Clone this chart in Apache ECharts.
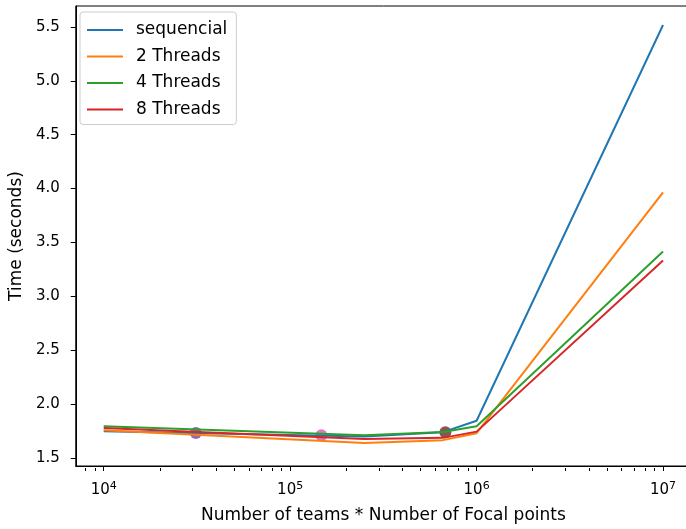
<!DOCTYPE html>
<html>
<head>
<meta charset="utf-8">
<script src="https://cdn.jsdelivr.net/npm/echarts@6/dist/echarts.min.js"></script>
<style>
  html, body { margin: 0; padding: 0; background: #fff; overflow: hidden; }
  /* the original figure is cut off at the right edge, so the canvas runs past the window */
  #chart { width: 720px; height: 529px; }
</style>
</head>
<body>
<div id="chart"></div>
<script>
// problem size (teams * focal points) and timings in seconds
const sizes = [1e4, 2.5e5, 6.6e5, 1e6, 1e7]
const sequencial = [1.748, 1.700, 1.740, 1.846, 5.518]
const threads2 = [1.758, 1.640, 1.666, 1.730, 3.964]
const threads4 = [1.794, 1.711, 1.742, 1.795, 3.416]
const threads8 = [1.779, 1.677, 1.687, 1.745, 3.333]

// single highlighted points
const markX = [3.12e4, 6.8e5, 1.47e5]
const markY = [1.733, 1.739, 1.711]
const markColors = ['#9467bd', '#8c564b', '#e377c2']

const yTicks = [1.5, 2.0, 2.5, 3.0, 3.5, 4.0, 4.5, 5.0, 5.5]
const xTicks = [1e4, 1e5, 1e6, 1e7]
const xMinorTicks = []
for (let e = 3; e < 7; e++) {
  for (let m = 2; m <= 9; m++) {
    xMinorTicks.push(m * Math.pow(10, e))
  }
}

const names = ['sequencial', '2 Threads', '4 Threads', '8 Threads']
const colors = ['#1f77b4', '#ff7f0e', '#2ca02c', '#d62728']
const values = [sequencial, threads2, threads4, threads8]

const font = 'DejaVu Sans'
const gridTop = 6
const gridBottom = 61
const gridHeight = 529 - gridTop - gridBottom

const chart = echarts.init(document.getElementById('chart'))

const lineSeries = names.map((name, i) => {
  return {
    name: name,
    type: 'line',
    symbol: 'none',
    lineStyle: { color: colors[i], width: 2 },
    itemStyle: { color: colors[i] },
    data: sizes.map((x, j) => [x, values[i][j]])
  }
})

const markSeries = markX.map((x, i) => {
  return {
    type: 'scatter',
    symbolSize: 12,
    itemStyle: { color: markColors[i], opacity: 1 },
    data: [[x, markY[i]]]
  }
})

chart.setOption({
  animation: false,
  textStyle: { fontFamily: font },
  grid: {
    left: 72,
    right: 29,
    top: gridTop,
    bottom: gridBottom,
    show: true,
    borderColor: '#000',
    borderWidth: 1
  },
  legend: {
    data: names,
    orient: 'vertical',
    left: 80,
    top: 12,
    icon: 'rect',
    itemWidth: 36,
    itemHeight: 2,
    itemGap: 9.5,
    padding: [9.5, 9, 6.5, 7],
    backgroundColor: 'rgba(255,255,255,0.8)',
    borderColor: '#cccccc',
    borderWidth: 1,
    borderRadius: 3,
    textStyle: {
      fontFamily: font,
      fontSize: 17,
      color: '#000',
      padding: [0, 0, 0, 8]
    }
  },
  xAxis: [
    {
      type: 'log',
      logBase: 10,
      min: Math.pow(10, 3.85),
      max: Math.pow(10, 7.15),
      position: 'bottom',
      name: 'Number of teams * Number of Focal points',
      nameLocation: 'middle',
      nameGap: 41,
      nameTextStyle: { fontFamily: font, fontSize: 17, color: '#000' },
      axisLine: { show: true, lineStyle: { color: '#000', width: 1 } },
      axisTick: {
        show: true,
        length: 5,
        customValues: xTicks,
        lineStyle: { color: '#000', width: 1 }
      },
      axisLabel: {
        customValues: xTicks,
        margin: 15,
        fontFamily: font,
        fontSize: 15,
        color: '#000',
        formatter: v => '10{sup|' + Math.round(Math.log10(v)) + '}',
        rich: {
          sup: {
            fontFamily: font,
            fontSize: 11,
            color: '#000',
            verticalAlign: 'bottom',
            padding: [0, 0, 7, 0]
          }
        }
      },
      splitLine: { show: false }
    },
    {
      // minor ticks, moved down onto the bottom edge
      type: 'log',
      logBase: 10,
      min: Math.pow(10, 3.85),
      max: Math.pow(10, 7.15),
      position: 'top',
      offset: -gridHeight,
      axisLine: { show: false },
      axisTick: {
        show: true,
        inside: true,
        length: 3,
        customValues: xMinorTicks,
        lineStyle: { color: '#000', width: 1 }
      },
      axisLabel: { show: false },
      splitLine: { show: false }
    }
  ],
  yAxis: {
    type: 'value',
    min: 1.426,
    max: 5.694,
    name: 'Time (seconds)',
    nameLocation: 'middle',
    nameRotate: 90,
    nameGap: 48,
    nameTextStyle: { fontFamily: font, fontSize: 17, color: '#000' },
    axisLine: { show: true, lineStyle: { color: '#000', width: 1 } },
    axisTick: {
      show: true,
      length: 5,
      customValues: yTicks,
      lineStyle: { color: '#000', width: 1 }
    },
    axisLabel: {
      customValues: yTicks,
      margin: 16,
      fontFamily: font,
      fontSize: 15,
      color: '#000',
      formatter: v => v.toFixed(1)
    },
    splitLine: { show: false }
  },
  series: lineSeries.concat(markSeries)
})
</script>
</body>
</html>
